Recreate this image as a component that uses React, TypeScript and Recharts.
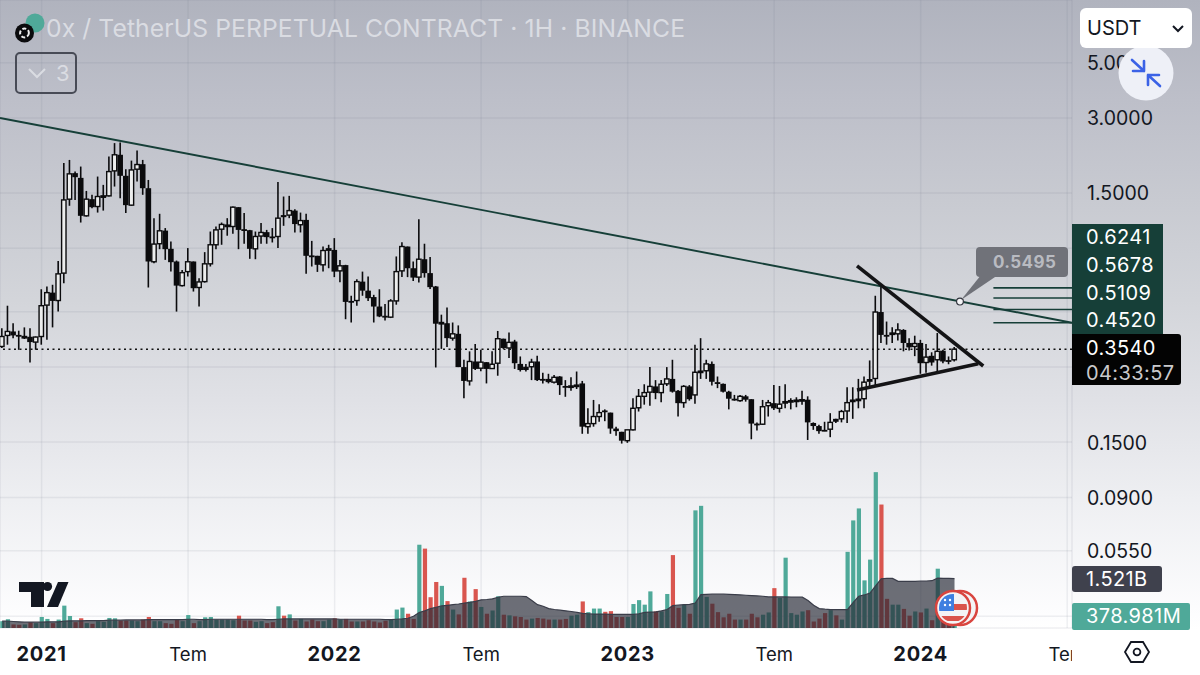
import React from "react";
import { ComposedChart, Bar, Area, XAxis, YAxis, CartesianGrid, ReferenceLine, ReferenceDot } from "recharts";

const FIRST_INDEX = -7;
const OPENS = [
  .363,.402,.417,.404,.394,.397,.378,
  .398,.532,.597,.555,.715,1.416,1.801,1.724,1.214,1.416,
  1.323,1.451,1.46,1.839,2.134,1.757,1.34,1.868,1.957,1.567,
  .794,.938,1.059,.895,.796,.637,.725,.796,.626,.661,
  .779,.929,1.073,1.104,1.1,1.315,1.073,1.063,.895,1.007,
  1.044,1.003,1.003,1.222,1.222,1.274,1.118,1.169,.842,.839,
  .772,.886,.886,.73,.77,.553,.555,.661,.608,.573,
  .525,.482,.476,.553,.73,.914,.748,.689,.813,.715,
  .632,.449,.45,.392,.408,.3,.264,.316,.297,.314,
  .296,.311,.39,.358,.38,.309,.301,.301,.316,.269,
  .269,.261,.275,.252,.25,.252,.258,.173,.178,.19,
  .201,.197,.17,.165,.152,.168,.206,.229,.238,.251,
  .237,.257,.269,.241,.216,.251,.232,.286,.29,.309,
  .261,.257,.239,.224,.22,.229,.223,.178,.177,.21,
  .215,.205,.217,.218,.22,.221,.222,.179,.174,.168,
  .169,.186,.186,.2,.22,.221,.224,.264,.27,.499,
  .404,.407,.408,.423,.375,.363,.375,.313,.333,.321,
  .349,.32,.321,
];
const CLOSES = [
  .398,.417,.402,.401,.398,.378,.396,
  .529,.597,.553,.71,1.406,1.789,1.735,1.214,1.416,1.315,
  1.451,1.46,1.827,2.134,1.757,1.34,1.855,1.95,1.567,.796,
  .935,1.057,.892,.791,.637,.718,.794,.622,.659,.779,
  .929,1.066,1.121,1.114,1.315,1.066,1.066,.895,1.003,1.041,
  .997,.997,1.188,1.199,1.274,1.125,1.162,.839,.834,.772,
  .881,.895,.725,.765,.548,.548,.661,.608,.567,.525,
  .479,.478,.553,.725,.914,.748,.686,.813,.715,.628,
  .448,.453,.392,.408,.3,.264,.316,.295,.314,.295,
  .308,.39,.358,.377,.311,.292,.292,.314,.266,.268,
  .261,.273,.254,.251,.252,.254,.173,.178,.19,.197,
  .199,.17,.166,.152,.168,.205,.229,.237,.251,.236,
  .256,.269,.239,.215,.251,.223,.286,.289,.309,.262,
  .258,.239,.224,.223,.229,.222,.178,.176,.208,.216,
  .205,.213,.218,.22,.221,.222,.18,.174,.166,.167,
  .18,.181,.199,.216,.221,.223,.261,.267,.499,.404,
  .401,.411,.423,.375,.36,.373,.311,.329,.313,.347,
  .316,.317,.354,
];
const HIGHS = [
  .43,.529,.45,.42,.433,.43,.398,
  .616,.632,.642,.799,1.976,2.035,1.827,1.914,1.528,1.474,
  1.745,1.616,2.1,2.377,2.39,1.868,2.022,2.218,2.035,1.691,
  1.188,1.237,1.084,.957,.803,.736,.901,.796,.682,.868,
  1.05,1.1,1.141,1.188,1.323,1.315,1.245,1.066,1.05,1.135,
  1.066,1.084,1.661,1.451,1.46,1.291,1.251,1.237,.963,.839,
  .914,.929,.988,.808,.772,.58,.676,.725,.693,.585,
  .616,.537,.562,.834,.952,.914,.796,1.177,.938,.829,
  .635,.487,.52,.453,.441,.321,.347,.371,.352,.314,
  .347,.419,.39,.413,.386,.331,.309,.324,.333,.285,
  .282,.279,.276,.266,.273,.288,.264,.205,.2215,.213,
  .203,.197,.173,.165,.168,.225,.245,.256,.3,.266,
  .266,.3,.321,.243,.254,.254,.369,.392,.321,.316,
  .275,.258,.241,.232,.232,.232,.223,.18,.2215,.2215,
  .254,.252,.256,.225,.227,.241,.229,.18,.176,.181,
  .196,.186,.202,.249,.249,.269,.275,.319,.58,.635,
  .457,.434,.45,.426,.392,.401,.386,.371,.344,.411,
  .352,.331,.361,
];
const LOWS = [
  .358,.369,.392,.352,.389,.313,.352,
  .369,.386,.433,.501,.651,1.332,1.406,1.141,1.206,1.303,
  1.251,1.274,1.451,1.591,1.429,1.245,1.332,1.666,1.474,.626,
  .784,.892,.808,.725,.501,.632,.693,.603,.525,.655,
  .76,.892,.929,1.01,1.028,.892,.938,.816,.813,.938,
  .938,.949,.901,1.107,1.188,1.041,1.041,.71,.76,.723,
  .725,.748,.689,.657,.467,.453,.529,.58,.553,.453,
  .476,.461,.472,.534,.689,.689,.665,.655,.686,.618,
  .299,.355,.361,.383,.3,.225,.253,.292,.289,.258,
  .295,.277,.355,.326,.295,.288,.288,.266,.264,.258,
  .258,.258,.232,.228,.241,.245,.162,.162,.173,.181,
  .182,.162,.159,.148,.149,.167,.199,.212,.21,.223,
  .217,.252,.237,.19,.206,.22,.214,.269,.269,.253,
  .247,.237,.203,.22,.218,.218,.154,.167,.176,.19,
  .202,.197,.205,.203,.207,.212,.153,.168,.162,.166,
  .157,.179,.18,.179,.186,.205,.205,.247,.251,.375,
  .369,.375,.384,.347,.35,.332,.282,.285,.304,.282,
  .311,.308,.316,
];
const VOLUMES = [
  .21,.27,.11,.10,.11,.18,.15,
  .34,.28,.15,.26,.69,.37,.18,.30,.15,.13,
  .21,.19,.31,.30,.23,.23,.23,.21,.26,.34,
  .21,.21,.15,.13,.26,.21,.40,.15,.21,.33,
  .34,.26,.26,.26,.24,.38,.23,.23,.19,.21,
  .15,.18,.67,.38,.42,.23,.28,.20,.26,.21,
  .21,.26,.30,.26,.28,.20,.20,.20,.24,.20,
  .17,.22,.27,.57,.63,.44,.28,2.57,2.45,.95,
  1.42,1.30,.83,.57,.42,1.55,.82,1.2,.65,.44,
  .54,.98,.41,.39,.36,.34,.26,.29,.31,.29,
  .26,.26,.26,.28,.38,.41,.82,.49,.6,.6,
  .5,.52,.34,.34,.34,.74,.86,.72,1.13,.51,
  .51,1.05,2.25,.62,.72,.44,3.63,3.77,.96,.75,
  .49,.33,.44,.26,.26,.26,.44,.33,.41,.48,
  1.23,.93,2.17,.46,.41,.51,.55,.2,.29,.46,
  .55,.39,.26,2.35,3.32,3.69,1.47,2.11,4.81,3.81,
  .9,.72,.72,.59,.38,.51,.48,.6,.24,1.83,
  .28,.2,.379,
];
const VOLUME_MA = [
  .21,.21,.20,.19,.18,.18,.18,
  .18,.19,.19,.19,.21,.22,.22,.22,.23,.23,
  .23,.23,.24,.24,.24,.25,.25,.25,.25,.26,
  .26,.26,.26,.26,.26,.26,.27,.27,.26,.26,
  .27,.27,.27,.27,.27,.27,.27,.27,.27,.27,
  .26,.26,.27,.28,.28,.28,.28,.28,.28,.28,
  .28,.28,.28,.27,.27,.27,.27,.27,.27,.27,
  .27,.26,.26,.27,.28,.30,.36,.48,.53,.60,
  .64,.68,.70,.72,.74,.77,.79,.82,.87,.88,
  .90,.95,.98,.98,.98,.98,.97,.85,.72,.67,
  .60,.57,.55,.53,.51,.48,.45,.44,.43,.43,
  .43,.42,.42,.42,.42,.42,.44,.48,.49,.50,
  .53,.57,.69,.71,.72,.73,.77,1.03,1.04,1.05,
  1.05,1.05,1.04,1.03,1.02,1.01,1.0,.99,.98,.96,
  .96,.96,.96,.95,.95,.95,.85,.70,.60,.58,
  .57,.57,.57,.57,.78,.98,1.02,1.08,1.30,1.52,
  1.53,1.53,1.44,1.44,1.44,1.44,1.45,1.45,1.46,1.54,
  1.53,1.53,1.521,
];
const X_TICKS = [0, 26, 52, 78, 104, 130, 156, 182];
const X_LABELS = ["2021", "Tem", "2022", "Tem", "2023", "Tem", "2024", "Tem"];
const Y_TICKS = [5, 3, 1.5, 0.9, 0.5, 0.3, 0.15, 0.09, 0.055, 0.03];
const Y_LABELLED = [5, 3, 1.5, 0.15, 0.09, 0.055];
const PRICE_LEVELS = [0.6241, 0.5678, 0.5109, 0.452];
const LEVEL_TAGS = ["0.6241", "0.5678", "0.5109", "0.4520"];
const LAST_PRICE = 0.354;
const CROSS_PRICE = 0.5495;

const rows = OPENS.map((open, k) => ({
  i: FIRST_INDEX + k,
  open,
  close: CLOSES[k],
  high: HIGHS[k],
  low: LOWS[k],
  volume: VOLUMES[k],
  ma: VOLUME_MA[k],
}));

const FONT = "Inter, 'Noto Sans', sans-serif";
const UP = "#4fa999";
const DOWN = "#d9564f";
const DARK_GREEN = "#163f38";
const X_DOMAIN = [-7.38, 182.85];

const Candle = (p: any) => {
  const { x, y, width, height, payload } = p;
  const { open, close, high, low } = payload;
  const k = height / (Math.log(high) - Math.log(low));
  const yOf = (v: number) => y + (Math.log(high) - Math.log(v)) * k;
  const cx = x + width / 2;
  const top = yOf(Math.max(open, close));
  const bot = yOf(Math.min(open, close));
  const up = close >= open;
  return (
    <g>
      <line x1={cx} x2={cx} y1={y} y2={y + height} stroke="#0b0b0d" strokeWidth={1.6} />
      {up ? (
        <rect x={cx - 2.2} y={top} width={4.4} height={Math.max(bot - top, 1.4)} fill="#eceded" stroke="#0b0b0d" strokeWidth={1.4} />
      ) : (
        <rect x={cx - 2.8} y={top} width={5.6} height={Math.max(bot - top, 1.8)} fill="#0b0b0d" />
      )}
    </g>
  );
};

const VolumeBar = (p: any) => {
  const { x, y, width, height, payload } = p;
  const cx = x + width / 2;
  return <rect x={cx - 2.1} y={y} width={4.2} height={height} fill={payload.close >= payload.open ? UP : DOWN} />;
};

const XTick = (p: any) => {
  const { x, payload, index } = p;
  const label = X_LABELS[X_TICKS.indexOf(payload.value)] ?? X_LABELS[index];
  const year = label !== "Tem";
  return (
    <text x={x} y={661} textAnchor="middle" fontFamily={FONT} fontSize={year ? 20 : 18.5} fontWeight={year ? 700 : 400} letterSpacing={year ? 0.7 : 0} fill="#131722">
      {label}
    </text>
  );
};

const YTick = (p: any) => {
  const { y, payload } = p;
  if (!Y_LABELLED.includes(payload.value)) return null;
  return (
    <text x={1087} y={y + 7.5} fontFamily={FONT} fontSize={19.5} fill="#131722">
      {Number(payload.value).toFixed(4)}
    </text>
  );
};

const Tag = (p: any) => (
  <div style={{ position: "absolute", left: p.x, top: p.y, width: p.w, height: p.h, background: p.bg, borderRadius: p.r ?? 0, color: p.color ?? "#fff", fontFamily: FONT, fontSize: p.fs ?? 20, lineHeight: p.h + "px", paddingLeft: p.pl ?? 14, boxSizing: "border-box", letterSpacing: 0.4 }}>
    {p.children}
  </div>
);

export default function App() {
  return (
    <div style={{ position: "absolute", left: 0, top: 0, width: 1200, height: 675, overflow: "hidden", background: "linear-gradient(180deg,#b0b3be 0px,#bdbfc9 100px,#c8cad1 200px,#d3d5da 300px,#e0e1e6 400px,#eeeff2 500px,#fdfdfe 615px,#ffffff 630px)" }}>
      <ComposedChart width={1200} height={675} data={rows} margin={{ top: 0, right: 0, bottom: 0, left: 0 }} style={{ position: "absolute", left: 0, top: 0 }}>
        <CartesianGrid stroke="#70748a" strokeOpacity={0.11} strokeWidth={1.5} />
        <XAxis dataKey="i" type="number" domain={X_DOMAIN} allowDataOverflow ticks={X_TICKS} interval={0} height={47} axisLine={false} tickLine={false} tick={<XTick />} />
        <XAxis xAxisId="volx" dataKey="i" type="number" domain={X_DOMAIN} allowDataOverflow hide />
        <YAxis orientation="right" width={128} scale="log" domain={[0.02692, 8.92]} allowDataOverflow ticks={Y_TICKS} interval={0} axisLine={false} tickLine={false} tick={<YTick />} />
        <YAxis yAxisId="vol" hide domain={[0, 19.38]} allowDataOverflow />
        <Bar xAxisId="volx" yAxisId="vol" dataKey="volume" barSize={4} shape={<VolumeBar />} isAnimationActive={false} zIndex={300} />
        <Area yAxisId="vol" dataKey="ma" type="linear" stroke="#3a3d49" strokeWidth={1.2} fill="#282b37" fillOpacity={0.68} isAnimationActive={false} dot={false} activeDot={false} zIndex={301} />
        <Bar dataKey={(d: any) => [d.low, d.high]} barSize={5} shape={<Candle />} isAnimationActive={false} zIndex={302} />
        <ReferenceLine y={LAST_PRICE} stroke="#111" strokeWidth={1.5} strokeDasharray="2 3.5" zIndex={303} />
        <ReferenceLine segment={[{ x: -7.38, y: 3.0 }, { x: 182.85, y: 0.452 }]} stroke={DARK_GREEN} strokeWidth={1.9} zIndex={304} />
        {PRICE_LEVELS.map((lvl) => (
          <ReferenceLine key={lvl} segment={[{ x: 168.9, y: lvl }, { x: 182.85, y: lvl }]} stroke={DARK_GREEN} strokeWidth={1.6} zIndex={304} />
        ))}
        <ReferenceLine segment={[{ x: 144.7, y: 0.764 }, { x: 167.1, y: 0.303 }]} stroke="#141416" strokeWidth={3.6} zIndex={305} />
        <ReferenceLine segment={[{ x: 144.7, y: 0.243 }, { x: 166.2, y: 0.3095 }]} stroke="#141416" strokeWidth={3.6} zIndex={305} />
        <ReferenceDot x={162.97} y={CROSS_PRICE} r={3.4} fill="#f4f4f6" stroke="#31343d" strokeWidth={1.2} zIndex={306} />
      </ComposedChart>

      {/* bottom-right corner of the time scale */}
      <div style={{ position: "absolute", left: 1072, top: 630, width: 128, height: 45, background: "#fff" }} />
      <svg style={{ position: "absolute", left: 0, top: 0 }} width={1200} height={675}>
        <polygon points="1125,652 1131,642 1143,642 1149,652 1143,662 1131,662" fill="none" stroke="#131722" strokeWidth={1.8} />
        <circle cx={1137} cy={652} r={3.4} fill="none" stroke="#131722" strokeWidth={1.8} />
        <polygon points="961,300 981,275 998,275" fill="#707279" />
        <path d="M19 582H44V607H31V592H19Z" fill="#131722" />
        <circle cx={47.5} cy={586.5} r={4.6} fill="#131722" />
        <polygon points="58,582 68.5,582 58,607 47,607" fill="#131722" />
        <circle cx={960} cy={608} r={17} fill="#f4f4f6" stroke="#d9453f" strokeWidth={2.5} />
        <circle cx={953} cy={608} r={17} fill="#f4f4f6" stroke="#d9453f" strokeWidth={2.5} />
        <clipPath id="flagclip"><circle cx={953} cy={608} r={14} /></clipPath>
        <g clipPath="url(#flagclip)">
          <rect x={939} y={594} width={28} height={28} fill="#f3f3f5" />
          <rect x={953} y={604} width={14} height={6} fill="#d9534b" />
          <rect x={939} y={616} width={28} height={5} fill="#d9534b" />
          <rect x={939} y={594} width={15} height={17} fill="#3f7fe0" />
          <circle cx={945} cy={600} r={1.2} fill="#fff" />
          <circle cx={950} cy={600} r={1.2} fill="#fff" />
          <circle cx={945} cy={605} r={1.2} fill="#fff" />
          <circle cx={950} cy={605} r={1.2} fill="#fff" />
        </g>
        <circle cx={35} cy={23} r={9.5} fill="#4fa999" />
        <circle cx={24.5} cy={33} r={9.5} fill="#0b0b0d" />
        <circle cx={24.5} cy={33} r={4.4} fill="none" stroke="#eee" strokeWidth={2} strokeDasharray="4 2" />
        <circle cx={1146} cy={73} r={27.5} fill="#eef0f7" />
        <g stroke="#3b62e6" strokeWidth={2.6} fill="none" strokeLinecap="round" strokeLinejoin="round">
          <path d="M1132 60L1144 71M1133 71H1144V61" />
          <path d="M1160 86L1148 75M1159 75H1148V85" />
        </g>
      </svg>
      <div style={{ position: "absolute", left: 46, top: 13, fontFamily: FONT, fontSize: 24.7, color: "#dadce2", whiteSpace: "nowrap", lineHeight: "30px", letterSpacing: 0.1 }}>
        0x / TetherUS PERPETUAL CONTRACT · 1H · BINANCE
      </div>
      <div style={{ position: "absolute", left: 15, top: 52, width: 62, height: 42, boxSizing: "border-box", border: "2px solid #484b56", borderRadius: 5, color: "#dadce2", fontFamily: FONT, fontSize: 22, lineHeight: "38px", paddingLeft: 39 }}>
        3
        <svg style={{ position: "absolute", left: 10, top: 12 }} width={22} height={14}>
          <path d="M2 3L10 11L18 3" fill="none" stroke="#dadce2" strokeWidth={2} />
        </svg>
      </div>
      <div style={{ position: "absolute", left: 1080, top: 8, width: 112, height: 40, background: "#fff", borderRadius: 6, fontFamily: FONT, fontSize: 20, lineHeight: "40px", paddingLeft: 7, boxSizing: "border-box", color: "#131722" }}>
        USDT
        <svg style={{ position: "absolute", left: 92, top: 16 }} width={12} height={10}>
          <path d="M1 2L6 7L11 2" fill="none" stroke="#131722" strokeWidth={2} />
        </svg>
      </div>
      <Tag x={976} y={247} w={92} h={30} bg="#707279" color="#b9bbc1" fs={17} r={4} pl={17}><b>0.5495</b></Tag>
      {LEVEL_TAGS.map((t, k) => (
        <Tag key={t} x={1072} y={224 + k * 27.75} w={91} h={27.75} bg={DARK_GREEN} pl={14}>{t}</Tag>
      ))}
      <div style={{ position: "absolute", left: 1072, top: 334, width: 109, height: 51, background: "#030303", borderRadius: "0 3px 3px 0", fontFamily: FONT, paddingLeft: 14, boxSizing: "border-box", letterSpacing: 0.4 }}>
        <div style={{ color: "#fff", fontSize: 20, lineHeight: "28px" }}>0.3540</div>
        <div style={{ color: "#c9c9cc", fontSize: 20, lineHeight: "22px" }}>04:33:57</div>
      </div>
      <Tag x={1072} y={566} w={90} h={26} bg="#3f414d" r={3} pl={14}>1.521B</Tag>
      <Tag x={1072} y={603} w={118} h={27} bg={UP} r={2} pl={14}>378.981M</Tag>
    </div>
  );
}
